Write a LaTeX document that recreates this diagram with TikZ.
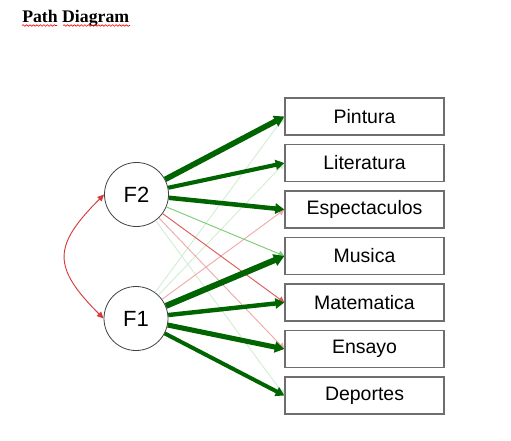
\documentclass[tikz,border=0pt]{standalone}
\usepackage{fontspec}
\setmainfont{Liberation Sans}
\newfontfamily\titlefont{Liberation Serif}
\usetikzlibrary{arrows.meta,decorations.pathmorphing}
\definecolor{loadpos}{HTML}{006400}
\definecolor{posmid}{HTML}{7ACC7A}
\definecolor{poslight}{HTML}{D2EED2}
\definecolor{negmid}{HTML}{DD5A5A}
\definecolor{neglight}{HTML}{F0AAAA}
\definecolor{covred}{HTML}{D63A3A}
\definecolor{boxgray}{HTML}{6E6E6E}
\definecolor{circgray}{HTML}{404040}
\tikzset{
  manifest/.style={draw=boxgray, line width=0.9pt, minimum width=119.25pt,
                   minimum height=27.75pt, inner sep=0pt,
                   font=\fontsize{14.6}{16}\selectfont},
  latent/.style={circle, draw=circgray, line width=0.6pt, minimum size=48pt,
                 inner sep=0pt, font=\fontsize{16.5}{18}\selectfont},
  loading/.style={-{Triangle[length=3.8pt 0.9, width=3.8pt 1.15]}},
  weak/.style={loading, line width=0.7pt},
  strong/.style={loading, draw=loadpos},
  squiggle/.style={draw=red, line width=0.45pt,
                   decorate, decoration={snake, amplitude=0.6pt, segment length=2.6pt}},
}

\begin{document}
\begin{tikzpicture}[x=0.75pt, y=-0.75pt]
    \useasboundingbox (0,0) rectangle (511,440);
    % title
    \node[anchor=base west, inner sep=0pt, font=\titlefont\bfseries\fontsize{13.3}{15}\selectfont] (title) at (22,22) {Path Diagram};
    \draw[squiggle] (22,25.5) -- (57,25.5);
    \draw[squiggle] (63,25.5) -- (130,25.5);
    % factors
    \node[latent] (f2) at (136.5,194.5) {F2};
    \node[latent] (f1) at (136,318.5) {F1};
    % indicators
    \node[manifest] (pin) at (364.5,116.5) {Pintura};
    \node[manifest] (lit) at (364.5,163) {Literatura};
    \node[manifest] (esp) at (364.5,209.5) {Espectaculos};
    \node[manifest] (mus) at (364.5,256) {Musica};
    \node[manifest] (mat) at (364.5,302.5) {Matematica};
    \node[manifest] (ens) at (364.5,349) {Ensayo};
    \node[manifest] (dep) at (364.5,395.5) {Deportes};
    % weak loadings
    \draw[weak, draw=poslight] (f2) -- (dep.west);
    \draw[weak, draw=poslight] (f1) -- (pin.west);
    \draw[weak, draw=poslight] (f1) -- (lit.west);
    \draw[weak, draw=neglight] (f1) -- (esp.west);
    \draw[weak, draw=neglight] (f2) -- (ens.west);
    \draw[weak, draw=negmid] (f2) -- (mat.west);
    \draw[weak, draw=posmid] (f2) -- (mus.west);
    % strong loadings
    \draw[strong, line width=4.2pt] (f2) -- (pin.west);
    \draw[strong, line width=3.1pt] (f2) -- (lit.west);
    \draw[strong, line width=3.4pt] (f2) -- (esp.west);
    \draw[strong, line width=4.5pt] (f1) -- (mus.west);
    \draw[strong, line width=3.3pt] (f1) -- (mat.west);
    \draw[strong, line width=3.8pt] (f1) -- (ens.west);
    \draw[strong, line width=3.0pt] (f1) -- (dep.west);
    % covariance
    \draw[{Triangle[length=5pt,width=4.5pt]}-{Triangle[length=5pt,width=4.5pt]}, draw=covred, line width=0.7pt]
      (f2.west) to[out=225, in=135, looseness=1.5] (f1.west);
  \end{tikzpicture}
\end{document}
